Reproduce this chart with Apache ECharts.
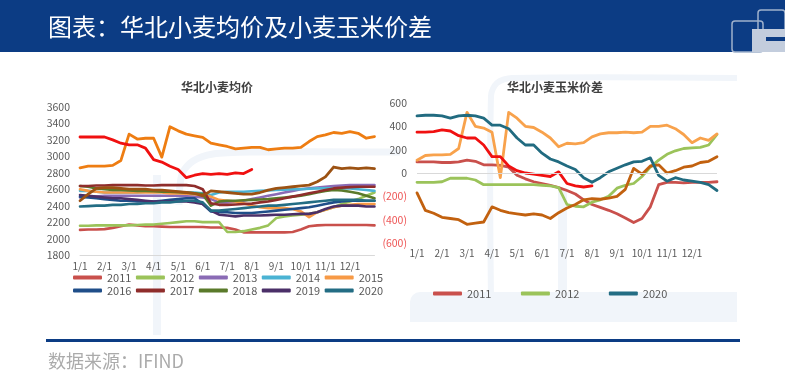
<!DOCTYPE html>
<html><head><meta charset="utf-8">
<script src="https://cdn.jsdelivr.net/npm/echarts@6/dist/echarts.min.js"></script>
<style>html,body{margin:0;padding:0;background:#fff}#c{width:785px;height:380px}</style>
</head><body><div id="c"></div>
<script>
// ---- tick labels ----
const monthLabels = ['1/1','2/1','3/1','4/1','5/1','6/1','7/1','8/1','9/1','10/1','11/1','12/1'];
const leftLegendRow1 = ['2011','2012','2013','2014','2015'];
const leftLegendRow2 = ['2016','2017','2018','2019','2020'];
const rightLegend = ['2011','2012','2020'];
// values sampled every 1/3 month from 1/1 (元/吨)
const wheat2011 = [2105,2110,2110,2115,2130,2150, 2170,2160,2150,2150,2145,2140, 2140,2140,2140,2140,2135,2135, 2130,2110,2075,2075,2075,2075, 2075,2075,2080,2110,2150,2160, 2165,2165,2165,2165,2165,2165, 2160];
const wheat2012 = [2155,2155,2160,2160,2160,2160, 2160,2165,2170,2170,2180,2190, 2200,2210,2210,2200,2200,2200, 2080,2080,2090,2110,2130,2160, 2250,2270,2280,2290,2300,2320, 2350,2380,2420,2450,2480,2520, 2560];
const wheat2013 = [2500,2510,2510,2520,2520,2520, 2520,2520,2520,2520,2520,2520, 2520,2515,2510,2500,2480,2440, 2440,2450,2460,2480,2500,2520, 2540,2560,2580,2600,2610,2620, 2630,2640,2645,2650,2650,2650, 2650];
const wheat2014 = [2580,2580,2570,2560,2560,2560, 2560,2560,2570,2570,2570,2560, 2560,2560,2560,2550,2530,2560, 2570,2570,2570,2575,2580,2585, 2590,2595,2600,2600,2605,2610, 2610,2610,2610,2610,2600,2590, 2580];
const wheat2015 = [2600,2580,2570,2560,2560,2560, 2560,2560,2560,2560,2560,2550, 2550,2545,2540,2530,2510,2470, 2460,2450,2430,2400,2380,2370, 2370,2370,2360,2330,2260,2320, 2350,2380,2400,2410,2420,2420, 2420];
const wheat2016 = [2510,2500,2490,2480,2470,2460, 2460,2450,2450,2450,2460,2470, 2480,2490,2490,2420,2330,2320, 2320,2310,2310,2310,2320,2330, 2340,2350,2360,2370,2380,2400, 2420,2440,2450,2460,2460,2460, 2460];
const wheat2017 = [2640,2640,2645,2645,2650,2650, 2650,2650,2645,2645,2650,2650, 2650,2650,2640,2600,2430,2410, 2410,2415,2420,2425,2440,2450, 2470,2490,2510,2530,2550,2570, 2590,2610,2620,2625,2630,2630, 2630];
const wheat2018 = [2640,2630,2610,2600,2590,2590, 2585,2580,2580,2575,2570,2570, 2565,2560,2550,2540,2400,2450, 2460,2460,2465,2470,2475,2480, 2490,2500,2510,2520,2540,2560, 2580,2590,2585,2570,2550,2520, 2490];
const wheat2019 = [2530,2520,2510,2500,2490,2490, 2480,2470,2460,2450,2450,2450, 2450,2450,2440,2420,2340,2290, 2280,2270,2280,2280,2280,2285, 2290,2290,2295,2300,2300,2320, 2360,2390,2400,2400,2400,2390, 2390];
const wheat2020 = [2390,2395,2400,2400,2410,2410, 2420,2420,2430,2430,2440,2440, 2450,2460,2460,2440,2340,2340, 2350,2360,2370,2380,2390,2400, 2400,2410,2420,2430,2440,2450, 2460,2470,2470,2470,2470,2460, 2460];
const wheat2021 = [2460,2540,2610,2620,2620,2610, 2600,2600,2600,2590,2590,2580, 2570,2560,2550,2520,2580,2570, 2560,2550,2540,2540,2560,2590, 2610,2620,2630,2640,2650,2690, 2750,2870,2850,2860,2850,2860, 2850];
const wheat2022 = [2860,2880,2880,2880,2890,2950, 3270,3210,3220,3220,2990,3360, 3310,3270,3250,3230,3160,3140, 3120,3090,3100,3110,3110,3080, 3090,3100,3100,3110,3180,3240, 3260,3290,3280,3300,3280,3220, 3240];
const wheat2023 = [3235,3235,3235,3235,3200,3160, 3140,3140,3100,2960,2930,2880, 2840,2740,2770,2790,2780,2790, 2780,2800,2790,2840];
// wheat-corn spread
const spread2011 = [95,95,95,90,90,95, 110,100,70,70,65,50, -20,-50,-75,-90,-105,-125, -150,-180,-230,-270,-295,-320, -350,-385,-425,-390,-290,-100, -80,-80,-85,-80,-80,-80, -75];
const spread2012 = [-80,-80,-80,-75,-45,-45, -45,-60,-100,-100,-100,-100, -100,-100,-100,-105,-110,-125, -270,-285,-290,-250,-230,-200, -130,-105,-90,-30,50,110, 160,190,210,215,220,240, 330];
const spread2020 = [490,495,495,490,470,490, 495,490,470,410,410,380, 300,240,240,170,120,95, 60,30,-40,-80,-40,10, 40,70,95,100,130,-20, -70,-40,-60,-70,-80,-100, -150];
const spread2021 = [-170,-320,-345,-380,-390,-400, -440,-430,-420,-290,-320,-340, -350,-360,-350,-360,-390,-340, -300,-270,-230,-220,-225,-215, -200,-140,40,-10,60,70, 0,20,50,60,90,100, 140];
const spread2022 = [110,150,155,155,160,210, 520,400,385,350,-40,520, 470,400,390,350,300,225, 255,250,260,310,335,345, 345,350,345,350,400,400, 410,380,330,260,300,280, 335];
const spread2023 = [350,350,355,370,360,320, 300,300,240,140,140,60, 20,0,-10,-20,-30,10, -90,-110,-120,-110];

const FONT = '"Noto Sans CJK SC","Noto Sans",sans-serif';
const toXY = arr => arr.map((v, i) => [i / 3, v]);

function line(name, data, color, axis, width, z) {
  return {
    name: name, type: 'line', data: toXY(data), xAxisIndex: axis, yAxisIndex: axis,
    symbol: 'none', showSymbol: false, z: z || 2,
    itemStyle: { color: color },
    lineStyle: { color: color, width: width || 2.6, join: 'round', cap: 'round' },
    emphasis: { disabled: true }
  };
}

const series = [
  line('2011', wheat2011, '#c9504c', 0),
  line('2012', wheat2012, '#9bc35a', 0),
  line('2013', wheat2013, '#8a6bb5', 0),
  line('2014', wheat2014, '#4bb3d3', 0),
  line('2015', wheat2015, '#f79a46', 0),
  line('2016', wheat2016, '#1f4e89', 0),
  line('2018', wheat2018, '#5a7a2a', 0),
  line('2019', wheat2019, '#4b2f68', 0),
  line('2020', wheat2020, '#236d84', 0),
  line('2017', wheat2017, '#8f2d2b', 0),
  line('2021', wheat2021, '#9c5213', 0, 2.8, 3),
  line('2022', wheat2022, '#ee7d12', 0, 2.8, 3),
  line('2023', wheat2023, '#f01010', 0, 2.8, 4),
  line('2011', spread2011, '#c9504c', 1, 2.8),
  line('2012', spread2012, '#9bc35a', 1, 2.8),
  line('r2021', spread2021, '#c2610f', 1, 2.8),
  line('r2022', spread2022, '#f8a24c', 1, 2.8),
  line('2020', spread2020, '#216b80', 1, 2.8, 3),
  line('r2023', spread2023, '#f01010', 1, 2.8, 4)
];
series[13].markLine = {
  silent: true, symbol: 'none', label: { show: false },
  lineStyle: { color: '#d9d9d9', width: 1, type: 'solid' },
  data: [{ yAxis: 0 }]
};

const legendBase = {
  itemWidth: 29, itemHeight: 4, icon: 'roundRect', padding: 0, selectedMode: false,
  textStyle: { fontSize: 11, color: '#595959', fontFamily: FONT, width: 24 }
};

const wm = '#f1f5fa';
const option = {
  animation: false,
  textStyle: { fontFamily: FONT },
  graphic: [
    // watermark (faint)
    { type: 'rect', z: -10, shape: { x: 153, y: 175, width: 8, height: 160 }, style: { fill: wm } },
    { type: 'polyline', z: -10, shape: { points: [[179, 205], [182, 174], [193, 161], [213, 154], [250, 152], [400, 152]], smooth: 0.3 }, style: { stroke: wm, lineWidth: 7, fill: null } },
    { type: 'polyline', z: -10, shape: { points: [[491, 300], [491, 96], [497, 83], [512, 78], [737, 78]], smooth: 0.3 }, style: { stroke: wm, lineWidth: 6, fill: null } },
    { type: 'rect', z: -10, shape: { x: 558, y: 188, width: 9, height: 110 }, style: { fill: wm } },
    { type: 'rect', z: -10, shape: { x: 410, y: 292, width: 327, height: 30, r: [10, 0, 0, 0] }, style: { fill: wm } },
    // header
    { type: 'rect', z: 0, shape: { x: 0, y: 0, width: 785, height: 52 }, style: { fill: '#0c3c84' } },
    { type: 'text', z: 1, x: 48, y: 27, style: { text: '图表：华北小麦均价及小麦玉米价差', fill: '#ffffff', font: '24px ' + FONT, textAlign: 'left', align: 'left', textVerticalAlign: 'middle', verticalAlign: 'middle' } },
    // logo
    { type: 'rect', z: 1, shape: { x: 732, y: 21, width: 31, height: 31, r: 3 }, style: { fill: null, stroke: '#9fb1cc', lineWidth: 1.5 } },
    { type: 'rect', z: 1, shape: { x: 758, y: 10, width: 27, height: 29, r: 3 }, style: { fill: null, stroke: '#9fb1cc', lineWidth: 1.5 } },
    { type: 'rect', z: 1, shape: { x: 752, y: 29, width: 33, height: 23 }, style: { fill: '#c3cddd' } },
    { type: 'rect', z: 2, shape: { x: 766, y: 37, width: 19, height: 4 }, style: { fill: '#0c3c84' } },
    // chart titles
    { type: 'text', z: 5, x: 217, y: 87, style: { text: '华北小麦均价', fill: '#404040', font: 'bold 12px ' + FONT, textAlign: 'center', align: 'center', textVerticalAlign: 'middle', verticalAlign: 'middle' } },
    { type: 'text', z: 5, x: 555, y: 87, style: { text: '华北小麦玉米价差', fill: '#404040', font: 'bold 12px ' + FONT, textAlign: 'center', align: 'center', textVerticalAlign: 'middle', verticalAlign: 'middle' } },
    // footer
    { type: 'rect', z: 1, shape: { x: 46, y: 339, width: 694, height: 3 }, style: { fill: '#0c3c84' } },
    { type: 'text', z: 1, x: 48, y: 361, style: { text: '数据来源：IFIND', fill: '#ababab', font: '18px ' + FONT, textAlign: 'left', align: 'left', textVerticalAlign: 'middle', verticalAlign: 'middle' } }
  ],
  legend: [
    Object.assign({}, legendBase, { data: leftLegendRow1, left: 73, top: 272, itemGap: 4.5 }),
    Object.assign({}, legendBase, { data: leftLegendRow2, left: 73, top: 285, itemGap: 4.5 }),
    Object.assign({}, legendBase, { data: rightLegend, left: 433, top: 288, itemGap: 29.5 })
  ],
  grid: [
    { left: 80, top: 107, width: 294.5, height: 148 },
    { left: 417, top: 103, width: 300, height: 140 }
  ],
  xAxis: [
    {
      type: 'value', gridIndex: 0, min: 0, max: 12, interval: 1,
      axisLine: { show: true, lineStyle: { color: '#d9d9d9', width: 1 } },
      axisTick: { show: false }, splitLine: { show: false },
      axisLabel: { color: '#595959', fontSize: 10, margin: 6, formatter: v => (v < 12 ? monthLabels[v] : '') }
    },
    {
      type: 'value', gridIndex: 1, min: 0, max: 12, interval: 1,
      axisLine: { show: false }, axisTick: { show: false }, splitLine: { show: false },
      axisLabel: { color: '#595959', fontSize: 10, margin: 5, formatter: v => (v < 12 ? monthLabels[v] : '') }
    }
  ],
  yAxis: [
    {
      type: 'value', gridIndex: 0, min: 1800, max: 3600, interval: 200,
      axisLine: { show: false }, axisTick: { show: false }, splitLine: { show: false },
      axisLabel: { color: '#595959', fontSize: 10.5, margin: 10, formatter: v => String(v) }
    },
    {
      type: 'value', gridIndex: 1, min: -600, max: 600, interval: 200,
      axisLine: { show: false }, axisTick: { show: false }, splitLine: { show: false },
      axisLabel: {
        fontSize: 10.5, margin: 10,
        color: v => (Number(v) < 0 ? '#ee5555' : '#595959'),
        formatter: v => (v < 0 ? '(' + (-v) + ')' : String(v))
      }
    }
  ],
  series: series
};

const chart = echarts.init(document.getElementById('c'), null, { renderer: 'canvas' });
chart.setOption(option);
</script>
</body></html>
